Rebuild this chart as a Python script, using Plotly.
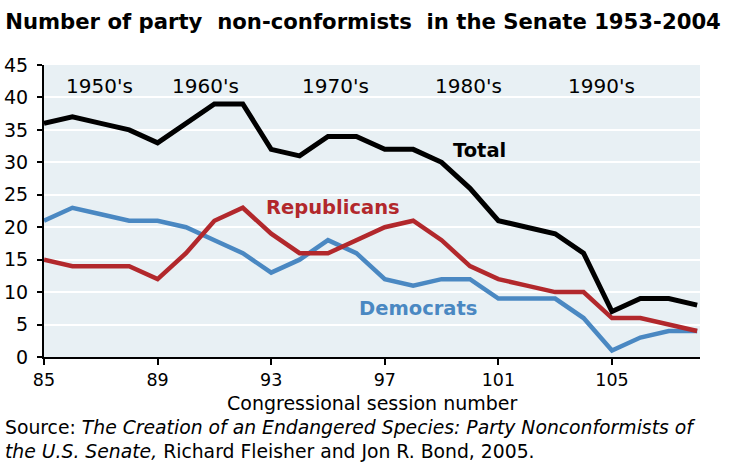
import plotly.graph_objects as go

sessions = list(range(85, 109))
total = [36, 37, 36, 35, 33, 36, 39, 39, 32, 31, 34, 34, 32, 32, 30, 26, 21, 20, 19, 16, 7, 9, 9, 8]
republicans = [15, 14, 14, 14, 12, 16, 21, 23, 19, 16, 16, 18, 20, 21, 18, 14, 12, 11, 10, 10, 6, 6, 5, 4]
democrats = [21, 23, 22, 21, 21, 20, 18, 16, 13, 15, 18, 16, 12, 11, 12, 12, 9, 9, 9, 6, 1, 3, 4, 4]
x_ticks = [85, 89, 93, 97, 101, 105]
y_ticks = [0, 5, 10, 15, 20, 25, 30, 35, 40, 45]
decades = ["1950's", "1960's", "1970's", "1980's", "1990's"]
decade_pos = [86.94, 90.67, 95.27, 99.95, 104.62]

BLACK = "#000000"
RED = "#B2282C"
BLUE = "#4A88C2"
FONT = "DejaVu Sans, Verdana, sans-serif"
NB = "\u00a0"

fig = go.Figure()
fig.add_trace(go.Scatter(x=sessions, y=democrats, mode="lines",
                         line=dict(color=BLUE, width=4.5), name="Democrats"))
fig.add_trace(go.Scatter(x=sessions, y=republicans, mode="lines",
                         line=dict(color=RED, width=4.5), name="Republicans"))
fig.add_trace(go.Scatter(x=sessions, y=total, mode="lines",
                         line=dict(color=BLACK, width=5), name="Total"))

ann = []
for lab, xp in zip(decades, decade_pos):
    ann.append(dict(x=xp, y=41.7, xref="x", yref="y", text=lab, showarrow=False,
                    font=dict(family=FONT, size=20, color="#000")))
ann.append(dict(x=100.35, y=31.8, xref="x", yref="y", text="<b>Total</b>", showarrow=False,
                font=dict(family=FONT, size=19.5, color=BLACK)))
ann.append(dict(x=95.17, y=23.1, xref="x", yref="y", text="<b>Republicans</b>", showarrow=False,
                font=dict(family=FONT, size=19.5, color=RED)))
ann.append(dict(x=98.16, y=7.5, xref="x", yref="y", text="<b>Democrats</b>", showarrow=False,
                font=dict(family=FONT, size=19.5, color=BLUE)))
ann.append(dict(x=0.5, y=-0.158, xref="paper", yref="paper", text="Congressional session number",
                showarrow=False, xanchor="center", yanchor="middle",
                font=dict(family=FONT, size=19, color="#000")))
ann.append(dict(x=-0.062, y=-0.243, xref="paper", yref="paper", xanchor="left", yanchor="middle",
                align="left", showarrow=False,
                text="Source: <i>The Creation of an Endangered Species: Party Nonconformists of</i>",
                font=dict(family=FONT, size=18.8, color="#000")))
ann.append(dict(x=-0.062, y=-0.325, xref="paper", yref="paper", xanchor="left", yanchor="middle",
                align="left", showarrow=False,
                text="<i>the U.S. Senate,</i> Richard Fleisher and Jon R. Bond, 2005.",
                font=dict(family=FONT, size=18.8, color="#000")))

title_text = ("<b>Number of party" + NB + " non-conformists" + NB +
              " in the Senate 1953-2004</b>")

fig.update_layout(
    width=741, height=463,
    margin=dict(l=44, r=41, t=65, b=106, autoexpand=False),
    paper_bgcolor="white", plot_bgcolor="#E8F0F4",
    showlegend=False,
    title=dict(text=title_text,
               x=0.007, xanchor="left", y=0.97, yanchor="top",
               font=dict(family=FONT, size=21.2, color="#000")),
    annotations=ann,
    xaxis=dict(range=[85, 108.1], tickvals=x_ticks, showgrid=False, zeroline=False,
               automargin=False,
               showline=True, linecolor="#000", linewidth=2, ticks="outside",
               ticklen=6, tickwidth=1.5, tickcolor="#000",
               tickfont=dict(family=FONT, size=17.5, color="#000")),
    yaxis=dict(range=[0, 45], tickvals=y_ticks, showgrid=True, gridcolor="white",
               automargin=False,
               gridwidth=2, zeroline=False, showline=True, linecolor="#000", linewidth=2,
               ticks="outside", ticklen=5, tickwidth=1.5, tickcolor="#000",
               ticklabelstandoff=5,
               tickfont=dict(family=FONT, size=19, color="#000")),
)

fig.write_html("out.html")
